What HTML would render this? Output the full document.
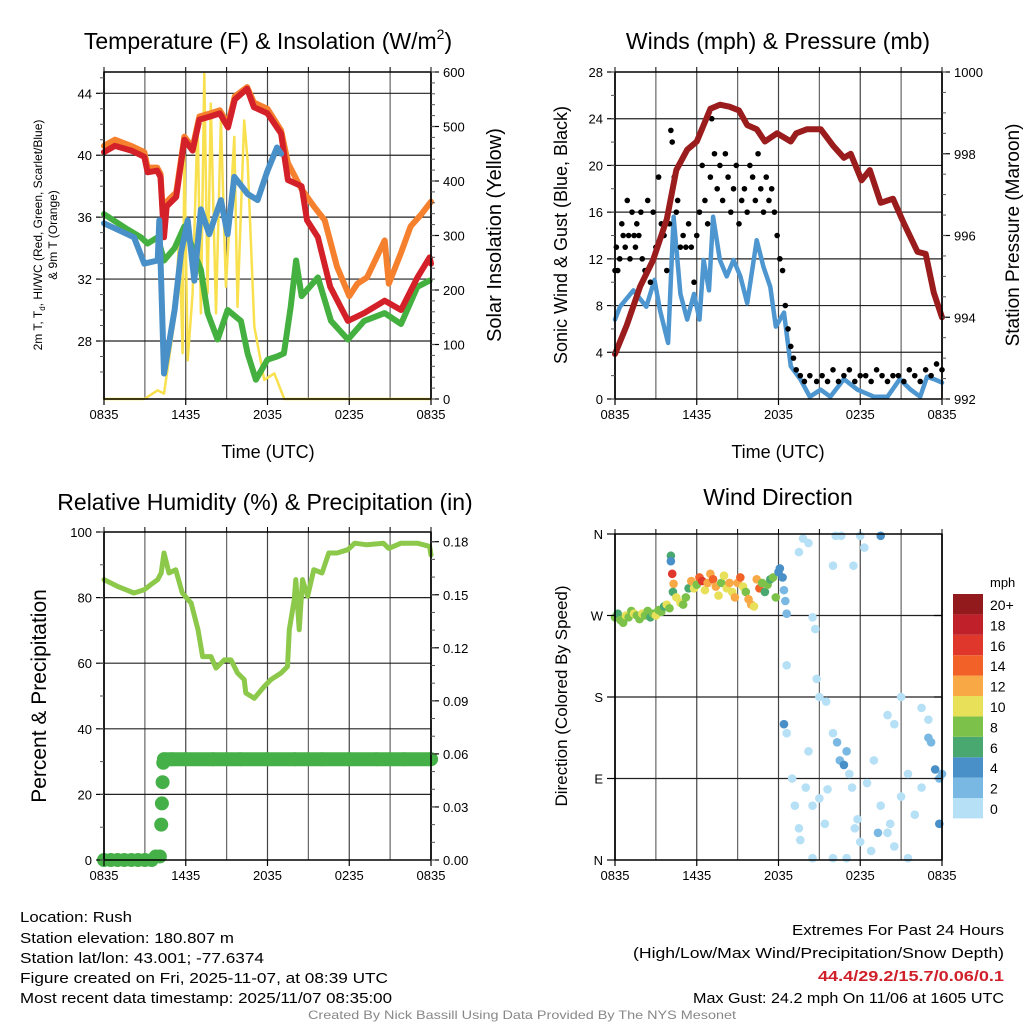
<!DOCTYPE html>
<html><head><meta charset="utf-8"><style>
html,body{margin:0;padding:0;background:#fff}
svg{display:block;font-family:"Liberation Sans",sans-serif}
</style></head><body>
<svg id="s" width="1024" height="1024" viewBox="0 0 1024 1024" xmlns="http://www.w3.org/2000/svg">
<rect width="1024" height="1024" fill="#fff"/>
<g id="bg"></g>
<g id="marks"></g>
<g id="axes"></g>
<g font-size="15" fill="#000">
<text x="20" y="922" textLength="112" lengthAdjust="spacingAndGlyphs">Location: Rush</text>
<text x="20" y="943" textLength="214" lengthAdjust="spacingAndGlyphs">Station elevation: 180.807 m</text>
<text x="20" y="963" textLength="244" lengthAdjust="spacingAndGlyphs">Station lat/lon: 43.001; -77.6374</text>
<text x="20" y="983" textLength="368" lengthAdjust="spacingAndGlyphs">Figure created on Fri, 2025-11-07, at 08:39 UTC</text>
<text x="20" y="1003" textLength="372" lengthAdjust="spacingAndGlyphs">Most recent data timestamp: 2025/11/07 08:35:00</text>
<text x="792" y="935" textLength="212" lengthAdjust="spacingAndGlyphs">Extremes For Past 24 Hours</text>
<text x="633" y="958" textLength="371" lengthAdjust="spacingAndGlyphs">(High/Low/Max Wind/Precipitation/Snow Depth)</text>
<text x="818" y="981" textLength="186" lengthAdjust="spacingAndGlyphs" fill="#d0202a" font-weight="bold">44.4/29.2/15.7/0.06/0.1</text>
<text x="693" y="1003" textLength="311" lengthAdjust="spacingAndGlyphs">Max Gust: 24.2 mph On 11/06 at 1605 UTC</text>
<text x="308" y="1019" textLength="428" lengthAdjust="spacingAndGlyphs" font-size="12" fill="#888">Created By Nick Bassill Using Data Provided By The NYS Mesonet</text>
</g>
</svg>
<script>
// ---------- DATA ----------
const timeTicks = ["0835","1435","2035","0235","0835"];
// Panel 1
const redT=[0,0.8,2,2.96,3.2,3.9,4.15,4.4,4.6,5.3,5.9,6.5,7,7.8,8.5,9.1,9.6,10.5,11,12,13,13.5,14.5,14.9,15.7,16.6,17.9,19.1,20.6,21.8,23,23.9,24];
const redV=[40.2,40.6,40.3,39.9,38.9,39,38.6,34.7,36.7,37.3,41,40.3,42.3,42.5,42.7,41.8,43.6,44.3,43.1,42.7,41.4,38.4,38,35.8,34.7,31.5,29.3,29.8,30.6,30,32.1,33.4,33];
const orgT=[0,0.8,2,2.96,3.2,3.9,4.15,4.4,4.6,5.3,5.9,6.5,7,7.8,8.5,9.1,9.6,10.5,11,12,13,13.5,14.5,15.4,16.2,17.1,18,18.6,19.3,20.6,20.9,21.8,22.5,23.3,24];
const orgV=[40.6,41,40.6,40.2,39.2,39.2,38.8,35,37,37.6,41.2,40.5,42.5,42.7,42.9,42,43.8,44.4,43.4,43,41.6,39.5,37.8,36.7,35.8,32.8,30.9,31.7,32.1,34.5,31.7,33.7,35.4,36.2,37];
const blueT=[0,2.2,2.96,3.94,4.06,4.4,5.18,5.65,6.14,6.63,7.11,7.72,8.58,9.07,9.56,10.54,11.27,12,12.7,13];
const blueV=[35.6,34.7,33,33.2,35.8,25.9,30,33.7,35.8,31.9,36.5,34.9,37.1,34.9,38.6,37.5,37.1,39,40.5,40.1];
const grnT=[0,1.74,2.71,3.2,3.94,4.4,5.18,5.9,6.63,7.11,7.6,8.34,9.07,10.05,10.54,11.15,12,12.7,13.2,13.7,14.1,14.5,15.7,16.66,17.9,19.1,20.6,21.8,23,23.9];
const grnV=[36.2,35.2,34.7,34.3,34.7,33.2,34,35.4,33.7,32.6,29.8,28.1,30,29.3,27.2,25.5,26.8,27,27.2,30.2,33.2,30.9,32.1,29.3,28.1,29.3,29.8,29.1,31.5,31.9];
const solT=[0,2.96,3.94,4.4,5.18,5.53,5.77,5.9,6.14,6.5,6.87,7.11,7.36,7.6,7.84,8.22,8.58,8.95,9.56,9.8,10.29,10.54,11.03,11.76,12.5,13.23,24];
const solV=[0,0,16,10,145,300,84,450,71,194,511,157,597,194,542,157,511,206,481,169,511,438,133,35,47,0,0];
// Panel 2
const windT=[0,0.37,1.35,2.3,2.9,3.3,3.9,4.3,4.8,5.3,5.8,6.2,6.5,6.9,7.2,7.7,8.2,8.7,9.2,9.7,10.4,10.9,11.4,11.8,12.4,12.9,13.6,14.3,15.1,15.8,16.8,17.8,19,20,20.9,21.7,22.4,22.9,23.4,24];
const windV=[6.8,7.9,9.3,7.9,10.2,7.6,4.8,15.6,9,6.8,9,6.8,11.9,9.3,15.6,11.9,10.5,11.9,10.5,8.2,13.6,11.3,9.6,6.2,7.4,2.8,1.7,0.2,0.8,0.2,1.7,0.8,0.2,0.2,1.7,0.8,0.2,1.9,1.7,1.4];
const gustT=[0,0.1,0.2,0.35,0.5,0.6,0.75,0.9,1.0,1.1,1.25,1.4,1.5,1.6,1.75,1.9,2.0,2.2,2.4,2.6,2.8,3.0,3.2,3.4,3.6,3.8,4.0,4.1,4.2,4.35,4.5,4.6,4.8,5.0,5.2,5.4,5.6,5.8,6.0,6.2,6.4,6.6,6.8,7.0,7.1,7.3,7.5,7.7,7.9,8.1,8.3,8.5,8.7,8.9,9.1,9.3,9.5,9.7,9.9,10.1,10.3,10.5,10.7,10.9,11.1,11.3,11.5,11.7,11.9,12.1,12.3,12.5,12.7,12.9,13.1,13.3,13.6,13.9,14.3,14.8,15.2,15.6,16.0,16.4,16.8,17.2,17.6,18.0,18.4,18.8,19.2,19.6,20.0,20.4,20.8,21.2,21.6,22.0,22.4,22.8,23.2,23.6,24];
const gustV=[11,13,11,12,15,14,13,17,14,12,16,14,13,15,14,16,12,11,17,10,16,13,19,15,14,11,15,23,22,19,16,17,13,14,13,15,13,10,14,16,20,17,15,19,24,21,18,20,17,21,19,16,18,20,15,17,18,16,20,19,17,21,18,16,19,17,18,16,14,12,11,8,6,4.5,3.5,2.5,2,1.5,2,1.5,2,1.5,2.5,1.5,2,2.5,1.5,2,2,1.5,2.5,2,1.5,2,2,1.5,2.5,2,1.5,2.5,2,3,2.5,3];
const presT=[0,0.86,1.84,2.8,3.8,4.5,5.3,6,7,7.7,8.4,9.1,9.7,10.4,11,11.9,12.9,13.3,14.1,15.1,16,16.8,17.3,18.1,18.7,19.5,20.4,21.2,22.2,22.8,23.4,24];
const presV=[993.1,993.8,994.75,995.4,996.4,997.6,998.1,998.3,999.1,999.2,999.15,999.06,998.7,998.6,998.3,998.5,998.3,998.5,998.6,998.6,998.2,997.9,998,997.35,997.6,996.8,996.9,996.3,995.6,995.55,994.6,994];
// Panel 3
const rhT=[0,1,2.2,2.96,3.45,3.94,4.2,4.4,4.77,5.26,5.75,6.4,6.9,7.24,7.85,8.22,8.83,9.32,9.8,10.29,10.41,11.03,11.76,12.25,13,13.47,13.6,13.96,14.08,14.33,14.57,14.94,15.4,16,16.5,17.1,17.9,18.4,19.3,20.5,20.9,21.8,23,23.9,24];
const rhV=[85.5,83.4,81.4,82.4,84,85.5,87.5,93.6,87.5,88.5,81.4,78.3,70.2,62,62,58.5,61,61,57,55,50.9,49.3,52.9,55,57,59,70.2,79.3,85.5,70.2,85.5,80.4,88.5,87.5,93.6,93.6,94.6,96.6,96.1,96.6,95,96.6,96.6,95.6,93];
const pcpT=[0,0.5,1,1.5,2,2.5,3,3.5,3.8,4.1,4.2,4.25,4.3,4.35,4.4,5,6,8,10,12,14,16,18,20,22,24];
const pcpV=[0,0,0,0,0,0,0,0,0.002,0.002,0.020,0.032,0.044,0.055,0.057,0.057,0.057,0.057,0.057,0.057,0.057,0.057,0.057,0.057,0.057,0.057];
// Panel 4
const dirT=[0,0.2,0.4,0.6,0.8,1,1.2,1.4,1.6,1.8,2,2.2,2.4,2.6,2.8,3,3.2,3.4,3.6,3.8,4.0,4.1,4.1,4.2,4.3,4.25,4.5,4.8,5,5.2,5.4,5.6,5.8,6,6.2,6.4,6.6,6.8,7,7.2,7.4,7.6,7.8,8,8.2,8.4,8.6,8.8,9,9.2,9.4,9.6,9.8,10,10.2,10.4,10.6,10.8,11,11.2,11.4,11.6,11.8,12,12.1,12.3,12.4,12.5,12.6,12.6,12.4,12.6,13.5,13.8,14.2,14.5,14.7,14.8,15,15.5,16,16.2,16.6,17.5,18,18.3,19.5,20,20.5,21,22.5,23,13,13.2,13.5,13.6,14,14.2,14.5,15,15.6,16,16.3,16.5,16.8,17,17.2,17.4,17.6,17.8,18,18.5,19,19.5,20,20.5,21,21.5,22,22.5,23,23.2,23.5,23.8,24,23.8,19.3,18.8,17,16,14.5,21.5,20.2,15.4];
const dirD=[268,272,265,262,270,268,275,272,270,266,272,270,275,268,272,270,276,274,280,282,278,336,330,316,305,296,290,284,282,290,300,308,300,304,312,308,298,306,316,310,302,292,306,314,300,306,296,290,306,312,302,296,288,282,280,310,300,306,296,304,310,312,290,318,322,312,298,286,272,215,150,140,340,355,350,268,255,200,180,175,325,358,358,325,358,345,358,160,150,180,168,155,90,60,35,22,80,120,60,68,78,140,130,110,105,120,95,80,35,45,20,85,110,60,30,15,70,95,50,80,135,130,100,90,95,40,30,10,2,2,2,2,40,40];
const dirS=[8,6,8,8,10,8,8,10,8,8,10,8,8,6,8,10,8,8,6,10,8,6,4,16,12,6,10,10,8,8,6,12,10,8,14,16,10,12,12,14,12,10,8,10,10,12,10,12,12,14,10,8,12,12,10,12,14,8,6,8,6,8,8,4,4,4,2,2,2,0,4,0,0,0,0,0,0,0,0,0,0,0,0,0,0,0,4,0,0,0,0,0,0,0,0,0,0,0,0,0,0,0,2,2,4,2,0,0,0,0,0,0,0,0,0,0,0,0,0,0,2,2,4,2,2,4,2,0,0,0,0,0,0,0,0];
const speedLabels=["0","2","4","6","8","10","12","14","16","18","20+"];
const speedColors=["#b6e0f6","#7ab8e4","#4a90c8","#48a870","#7cc24a","#e8e058","#f8a844","#f26228","#e0372c","#c0202a","#921a1c"];

// ---------- HELPERS ----------
const NS="http://www.w3.org/2000/svg";
function mk(parent,tag,attrs){const e=document.createElementNS(NS,tag);for(const k in attrs)e.setAttribute(k,attrs[k]);parent.appendChild(e);return e;}
const BG=document.getElementById('bg'),MK=document.getElementById('marks'),AX=document.getElementById('axes');
function lin(d0,d1,r0,r1){return v=>r0+(v-d0)*(r1-r0)/(d1-d0);}
function path(g,xs,ys,fx,fy,color,w,name){
  let d="";for(let i=0;i<xs.length;i++)d+=(i?"L":"M")+fx(xs[i]).toFixed(1)+","+fy(ys[i]).toFixed(1);
  const p=mk(g,'path',{d:d,fill:'none',stroke:color,'stroke-width':w,'stroke-linejoin':'round','stroke-linecap':'round'});
  
  
  return p;
}
function txt(g,x,y,s,attrs){const t=mk(g,'text',Object.assign({x:x,y:y},attrs||{}));t.textContent=s;return t;}

function panel(P){
  const {x0,x1,y0,y1}=P;
  const fx=lin(0,24,x0,x1);
  const g=mk(AX,'g',{});
  
  
  for(let h=3;h<24;h+=3){const l=mk(BG,'line',{x1:fx(h),x2:fx(h),y1:y0,y2:y1,stroke:h%6==0?'#444':'#666','stroke-width':1.2});
    
    }
  P.hgrid.forEach(y=>{const l=mk(BG,'line',{x1:x0,x2:x1,y1:y,y2:y,stroke:'#222','stroke-width':1.2});
    
    });
  const f=mk(g,'rect',{x:x0,y:y0,width:x1-x0,height:y1-y0,fill:'none',stroke:'#000','stroke-width':1.5});
  
  
  timeTicks.forEach((t,i)=>{const x=fx(i*6);
    mk(g,'line',{x1:x,x2:x,y1:y1,y2:y1+6,stroke:'#000','stroke-width':1.2});
    const tt=txt(g,x,y1+20,t,{'font-size':13,'text-anchor':'middle'});
    
    });
  for(let h=0;h<=24;h+=3){mk(g,'line',{x1:fx(h),x2:fx(h),y1:y0-5,y2:y0,stroke:'#000','stroke-width':1});}
  return {fx,g};
}
function yAxis(g,side,x,fy,ticks,labels,minor,y0,y1){
  const dir=side=='left'?-1:1;
  mk(g,'line',{x1:x,x2:x,y1:y0,y2:y1,stroke:'#000','stroke-width':1.5});
  ticks.forEach((v,i)=>{const y=fy(v);
    mk(g,'line',{x1:x,x2:x+dir*8,y1:y,y2:y,stroke:'#000','stroke-width':1.2});
    const t=txt(g,x+dir*12,y+5,labels[i],{'font-size':13,'text-anchor':side=='left'?'end':'start'});
    
    });
  minor.forEach(v=>{const y=fy(v);if(y>=y0-0.5&&y<=y1+0.5)mk(g,'line',{x1:x,x2:x+dir*4,y1:y,y2:y,stroke:'#555','stroke-width':1});});
}
function title(x,y,s,name,size){const t=txt(AX,x,y,s,{'font-size':size||23,'text-anchor':'middle'});
  
  return t;}
function vtitle(x,y,s,name,size){const t=txt(AX,0,0,s,{'font-size':size,'text-anchor':'middle',transform:`translate(${x},${y}) rotate(-90)`});
  
  return t;}
function range(a,b,s){const r=[];for(let v=a;v<=b+1e-9;v+=s)r.push(+v.toFixed(4));return r;}

// ---------- PANEL 1 ----------
(function(){
  const P={name:'temperature',x0:104,x1:431,y0:72,y1:399};
  const fy=lin(28,44,341,93.3), fs=lin(0,600,399,72);
  P.hgrid=[28,32,36,40,44].map(fy);
  const {fx,g}=panel(P);
  const m=mk(MK,'g',{});
  
  
  path(m,solT,solV,fx,fs,'#f8e04e',2.5,'solar-insolation-line');
  path(m,grnT,grnV,fx,fy,'#44b040',6,'dewpoint-line');
  path(m,orgT,orgV,fx,fy,'#f5802e',6,'temp-9m-line');
  path(m,redT,redV,fx,fy,'#d42028',6,'temp-2m-line');
  path(m,blueT,blueV,fx,fy,'#4a90c8',6,'heat-index-windchill-line');
  yAxis(g,'left',104,fy,[28,32,36,40,44],["28","32","36","40","44"],range(26,45,1),72,399);
  yAxis(g,'right',431,fs,[0,100,200,300,400,500,600],["0","100","200","300","400","500","600"],range(0,600,20),72,399);
  title(268,49,'','temp-title');
  const t=AX.lastChild; t.innerHTML='Temperature (F) &amp; Insolation (W/m<tspan font-size="14" dy="-10">2</tspan><tspan dy="10">)</tspan>';
  title(268,458,'Time (UTC)','temp-x-title',18);
  vtitle(42,235,'2m T, T',"temp-y-title",12);
  AX.lastChild.innerHTML='2m T, T<tspan font-size="8" dy="3">d</tspan><tspan dy="-3">, HI/WC (Red, Green, Scarlet/Blue)</tspan>';
  vtitle(57,235,'& 9m T (Orange)','temp-y-title-2',12);
  vtitle(501,235,'Solar Insolation (Yellow)','solar-y-title',20);
})();

// ---------- PANEL 2 ----------
(function(){
  const P={name:'winds',x0:615,x1:942,y0:72,y1:399};
  const fy=lin(0,28,399,72), fp=lin(992,1000,399,72);
  P.hgrid=[4,8,12,16,20,24].map(fy);
  const {fx,g}=panel(P);
  const m=mk(MK,'g',{});
  
  
  path(m,windT,windV,fx,fy,'#4e96d0',4.5,'sonic-wind-line');
  gustT.forEach((t,i)=>{const c=mk(m,'circle',{cx:fx(t),cy:fy(gustV[i]),r:2.8,fill:'#000'});
    
    });
  path(m,presT,presV,fx,fp,'#9a1c1c',6,'station-pressure-line');
  yAxis(g,'left',615,fy,range(0,28,4),range(0,28,4).map(String),range(0,28,2),72,399);
  yAxis(g,'right',942,fp,[992,994,996,998,1000],["992","994","996","998","1000"],range(992,1000,0.5),72,399);
  title(778,49,'Winds (mph) & Pressure (mb)','winds-title');
  title(778,458,'Time (UTC)','winds-x-title',18);
  vtitle(567,235,'Sonic Wind & Gust (Blue, Black)','wind-y-title',18);
  vtitle(1019,235,'Station Pressure (Maroon)','pressure-y-title',19);
})();

// ---------- PANEL 3 ----------
(function(){
  const P={name:'humidity',x0:104,x1:431,y0:532,y1:860};
  const fy=lin(0,100,860,532), fp=lin(0,0.18,860,541.7);
  P.hgrid=[20,40,60,80].map(fy);
  const {fx,g}=panel(P);
  const m=mk(MK,'g',{});
  
  
  path(m,rhT,rhV,fx,fy,'#8cc84a',5,'relative-humidity-line');
  path(m,pcpT.slice(14),pcpV.slice(14),fx,fp,'#46b048',14,'precip-band');
  path(m,pcpT.slice(0,10),pcpV.slice(0,10),fx,fp,'#46b048',12,'precip-zero-band');
  pcpT.forEach((t,i)=>{const c=mk(m,'circle',{cx:fx(t),cy:fp(pcpV[i]),r:7,fill:'#46b048'});
    
    });
  yAxis(g,'left',104,fy,range(0,100,20),range(0,100,20).map(String),range(0,100,10),532,860);
  const pt=[0,0.03,0.06,0.09,0.12,0.15,0.18];
  yAxis(g,'right',431,fp,pt,pt.map(v=>v.toFixed(2)),range(0,0.18,0.01),532,860);
  title(265,510,'Relative Humidity (%) & Precipitation (in)','humidity-title');
  vtitle(46,696,'Percent & Precipitation','humidity-y-title',21);
})();

// ---------- PANEL 4 ----------
(function(){
  const P={name:'direction',x0:615,x1:942,y0:534,y1:860};
  const fy=lin(0,360,860,534);
  P.hgrid=[90,180,270].map(fy);
  const {fx,g}=panel(P);
  const m=mk(MK,'g',{});
  
  
  dirT.forEach((t,i)=>{const idx=Math.min(10,Math.floor(dirS[i]/2));
    const c=mk(m,'circle',{cx:fx(t),cy:fy(dirD[i]),r:4.3,fill:speedColors[idx]});
    
    });
  yAxis(g,'left',615,fy,[0,90,180,270,360],["N","E","S","W","N"],[],534,860);
  mk(g,'line',{x1:942,x2:942,y1:534,y2:860,stroke:'#000','stroke-width':1.5});
  [90,180,270].forEach(v=>mk(g,'line',{x1:942,x2:934,y1:fy(v),y2:fy(v),stroke:'#000','stroke-width':1.2}));
  title(778,505,'Wind Direction','direction-title');
  vtitle(567,696,'Direction (Colored By Speed)','direction-y-title',17);
  const cb=mk(AX,'g',{});
  
  
  const t=txt(cb,990,587,'mph',{'font-size':13});
  speedColors.forEach((c,i)=>{const y=798-i*20.4;
    const r=mk(cb,'rect',{x:953,y:y,width:30,height:20.4,fill:c});
    
    
    const l=txt(cb,990,y+16,speedLabels[i],{'font-size':14});
    
    });
})();
</script>
</body></html>
